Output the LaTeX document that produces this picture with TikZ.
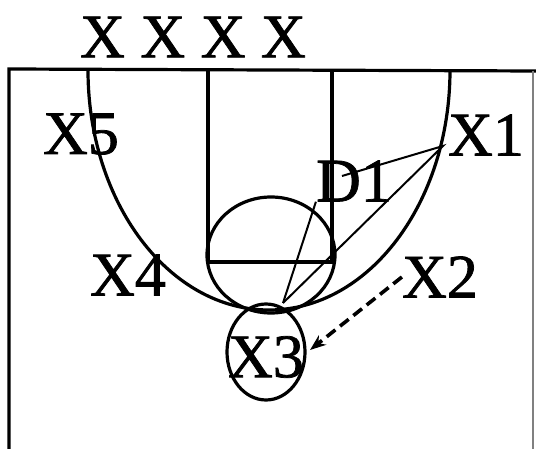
\documentclass[tikz,border=0pt]{standalone}
\usepackage{fontspec}
\setmainfont[FakeBold=1.2]{Liberation Serif}
\usetikzlibrary{arrows.meta,positioning}

\begin{document}
\begin{tikzpicture}[
    x=1pt, y=-1pt,
    font=\fontsize{62}{62}\selectfont,
    player/.style={inner sep=0pt, anchor=center},
    court/.style={line width=3.2pt},
    cut/.style={line width=2pt},
    pass/.style={-{Stealth[length=16pt,width=12pt]}, line width=3.6pt, dash pattern=on 11pt off 6pt}
]
\useasboundingbox (0,0) rectangle (536,449);

% court lines
\draw[court] (9,449) -- (9,69) -- (536,71);
\draw[line width=1.2pt, gray] (533,71) -- (533,449);
\draw[court] (208,70) -- (208,262) -- (332,262) -- (332,70);
\draw[court] (271,255) ellipse[x radius=64, y radius=58];
\draw[court] (88,70) arc[start angle=180, end angle=0, x radius=181, y radius=240];

% players
\node[player] (top) at (193,37) {X X X X};
\node[player] (x5) at (81,134) {X5};
\node[player] (x1) at (486,135) {X1};
\node[player] (d1) at (354,181) {D1};
\node[player] (x4) at (128,275) {X4};
\node[player] (x2) at (440,277) {X2};
\node[player] (x3) at (266,357) {X3};
\draw[court] (266,352) ellipse[x radius=39, y radius=48];

% cut of the defender
\coordinate (tip) at (443,146);
\coordinate (base) at (283,303);
\coordinate (pivot) at (342,176);
\draw[cut] (base) -- (d1.south west);
\draw[cut] (pivot) -- (tip) -- (base);

% pass
\draw[pass] (x2.west) -- (310,350);
\end{tikzpicture}
\end{document}
